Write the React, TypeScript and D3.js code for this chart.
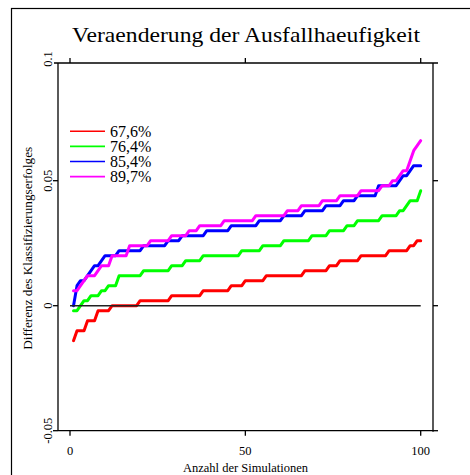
import React from "react";
import * as d3 from "d3";

// Sorted differences in classification success per simulation run (1..100)
const simulations: number[] = Array.from({ length: 100 }, (_, k) => k + 1);

const series676: number[] = [
  -0.014, -0.010, -0.010, -0.010, -0.006, -0.006, -0.006, -0.002, -0.002, -0.002,
  -0.002, 0, 0, 0, 0, 0, 0, 0, 0, 0.002,
  0.002, 0.002, 0.002, 0.002, 0.002, 0.002, 0.002, 0.002, 0.004, 0.004,
  0.004, 0.004, 0.004, 0.004, 0.004, 0.004, 0.004, 0.006, 0.006, 0.006,
  0.006, 0.006, 0.006, 0.006, 0.006, 0.008, 0.008, 0.008, 0.008, 0.010,
  0.010, 0.010, 0.010, 0.010, 0.010, 0.012, 0.012, 0.012, 0.012, 0.012,
  0.012, 0.012, 0.012, 0.012, 0.012, 0.012, 0.014, 0.014, 0.014, 0.014,
  0.014, 0.014, 0.014, 0.016, 0.016, 0.016, 0.018, 0.018, 0.018, 0.018,
  0.018, 0.018, 0.020, 0.020, 0.020, 0.020, 0.020, 0.020, 0.020, 0.020,
  0.022, 0.022, 0.022, 0.022, 0.022, 0.022, 0.024, 0.024, 0.026, 0.026,
];

const series764: number[] = [
  -0.002, -0.002, 0, 0.002, 0.002, 0.004, 0.004, 0.004, 0.006, 0.006,
  0.008, 0.008, 0.008, 0.012, 0.012, 0.012, 0.012, 0.012, 0.012, 0.012,
  0.014, 0.014, 0.014, 0.014, 0.014, 0.014, 0.014, 0.014, 0.016, 0.016,
  0.016, 0.016, 0.018, 0.018, 0.018, 0.018, 0.018, 0.020, 0.020, 0.020,
  0.020, 0.020, 0.020, 0.020, 0.020, 0.020, 0.020, 0.020, 0.022, 0.022,
  0.022, 0.022, 0.022, 0.022, 0.024, 0.024, 0.024, 0.024, 0.024, 0.024,
  0.026, 0.026, 0.026, 0.026, 0.026, 0.026, 0.026, 0.026, 0.028, 0.028,
  0.028, 0.028, 0.028, 0.030, 0.030, 0.030, 0.030, 0.030, 0.032, 0.032,
  0.032, 0.034, 0.034, 0.034, 0.034, 0.034, 0.034, 0.034, 0.036, 0.036,
  0.036, 0.036, 0.036, 0.038, 0.038, 0.040, 0.042, 0.042, 0.042, 0.046,
];

const series854: number[] = [
  0, 0.008, 0.010, 0.010, 0.012, 0.014, 0.016, 0.016, 0.018, 0.020,
  0.020, 0.020, 0.020, 0.022, 0.022, 0.022, 0.022, 0.022, 0.022, 0.022,
  0.024, 0.024, 0.024, 0.024, 0.024, 0.024, 0.024, 0.026, 0.026, 0.026,
  0.026, 0.028, 0.028, 0.028, 0.028, 0.028, 0.028, 0.028, 0.030, 0.030,
  0.030, 0.030, 0.030, 0.030, 0.030, 0.032, 0.032, 0.032, 0.032, 0.032,
  0.032, 0.032, 0.032, 0.034, 0.034, 0.034, 0.034, 0.034, 0.034, 0.034,
  0.036, 0.036, 0.036, 0.036, 0.036, 0.036, 0.038, 0.038, 0.038, 0.038,
  0.038, 0.038, 0.040, 0.040, 0.040, 0.040, 0.040, 0.042, 0.042, 0.042,
  0.042, 0.044, 0.044, 0.044, 0.044, 0.044, 0.044, 0.048, 0.048, 0.048,
  0.048, 0.048, 0.048, 0.050, 0.052, 0.052, 0.054, 0.056, 0.056, 0.056,
];

const series897: number[] = [
  0.006, 0.006, 0.008, 0.010, 0.012, 0.012, 0.012, 0.014, 0.016, 0.016,
  0.016, 0.020, 0.020, 0.020, 0.020, 0.020, 0.024, 0.024, 0.024, 0.024,
  0.024, 0.024, 0.026, 0.026, 0.026, 0.026, 0.026, 0.026, 0.028, 0.028,
  0.028, 0.028, 0.028, 0.030, 0.030, 0.030, 0.032, 0.032, 0.032, 0.032,
  0.032, 0.032, 0.032, 0.034, 0.034, 0.034, 0.034, 0.034, 0.034, 0.034,
  0.034, 0.034, 0.036, 0.036, 0.036, 0.036, 0.036, 0.036, 0.036, 0.036,
  0.036, 0.038, 0.038, 0.038, 0.038, 0.040, 0.040, 0.040, 0.040, 0.040,
  0.040, 0.042, 0.042, 0.042, 0.042, 0.042, 0.044, 0.044, 0.044, 0.044,
  0.044, 0.044, 0.046, 0.046, 0.046, 0.046, 0.046, 0.046, 0.048, 0.048,
  0.048, 0.050, 0.050, 0.052, 0.054, 0.054, 0.058, 0.062, 0.064, 0.066,
];

const seriesLabels: string[] = ["67,6%", "76,4%", "85,4%", "89,7%"];
const seriesColors: string[] = ["#ff0000", "#00ff00", "#0000ff", "#ff00ff"];
const seriesValues: number[][] = [series676, series764, series854, series897];

const xTicks: number[] = [0, 50, 100];
const yTicks: number[] = [-0.05, 0, 0.05];
const yTickLabels: string[] = ["-0.05", "0", "0.05"];
const yTopLabel = "0.1";

const title = "Veraenderung der Ausfallhaeufigkeit";
const xTitle = "Anzahl der Simulationen";
const yTitle = "Differenz des Klassifizierungserfolges";

const FONT = "'Liberation Serif', 'Times New Roman', serif";

export default function App() {
  const W = 470;
  const H = 475;
  const boxLeft = 58;
  const boxRight = 433;
  const boxTop = 63;

  const x = d3.scaleLinear().domain([0, 100]).range([70, 420.7]);
  const y = d3.scaleLinear().domain([-0.05, 0.1]).range([430.7, 55.7]);

  const boxBottom = y(-0.05);

  const line = d3
    .line<number>()
    .x((_, k) => x(simulations[k]))
    .y((v) => y(v));

  const legendY0 = 131.3;
  const legendStep = 15.1;

  return (
    <svg
      width={W}
      height={H}
      style={{ position: "absolute", left: 0, top: 0, background: "#fff" }}
      fontFamily={FONT}
    >
      <rect x={0} y={0} width={W} height={H} fill="#fff" />
      {/* outer graph frame */}
      <rect x={11.5} y={8.5} width={W + 20} height={H + 20} fill="none" stroke="#000" strokeWidth={1.2} />

      <text
        x={246}
        y={41.5}
        textAnchor="middle"
        fontSize={22}
        textLength={348}
        lengthAdjust="spacingAndGlyphs"
        fill="#000"
      >
        {title}
      </text>

      {/* data lines */}
      {seriesValues.map((vals, s) => (
        <path
          key={s}
          d={line(vals) ?? ""}
          fill="none"
          stroke={seriesColors[s]}
          strokeWidth={3}
          strokeLinejoin="round"
          strokeLinecap="round"
        />
      ))}

      {/* zero reference line */}
      <line x1={x(0)} x2={x(100)} y1={y(0)} y2={y(0)} stroke="#222" strokeWidth={1.6} />

      {/* plot box */}
      <line x1={boxLeft} x2={boxLeft} y1={boxTop} y2={boxBottom} stroke="#000" strokeWidth={1.3} />
      <line x1={boxRight} x2={boxRight} y1={boxTop} y2={boxBottom + 1} stroke="#000" strokeWidth={1.3} />
      <line x1={boxLeft - 4} x2={boxRight + 5} y1={boxTop} y2={boxTop} stroke="#000" strokeWidth={1.3} />
      <line x1={boxLeft} x2={boxRight} y1={boxBottom} y2={boxBottom} stroke="#000" strokeWidth={1.3} />

      {/* y ticks, both sides */}
      {yTicks.map((t, k) => (
        <g key={`y${k}`}>
          <line x1={boxLeft - 5} x2={boxLeft} y1={y(t)} y2={y(t)} stroke="#000" strokeWidth={1.3} />
          <line x1={boxRight} x2={boxRight + 5} y1={y(t)} y2={y(t)} stroke="#000" strokeWidth={1.3} />
          <text
            transform={`translate(52,${y(t)}) rotate(-90)`}
            textAnchor="middle"
            fontSize={12.5}
            fill="#000"
          >
            {yTickLabels[k]}
          </text>
        </g>
      ))}
      <text
        transform={`translate(52,${boxTop - 4}) rotate(-90)`}
        textAnchor="middle"
        fontSize={12.5}
        fill="#000"
      >
        {yTopLabel}
      </text>

      {/* x ticks, top and bottom */}
      {xTicks.map((t) => (
        <g key={`x${t}`}>
          <line x1={x(t)} x2={x(t)} y1={boxBottom} y2={boxBottom + 5} stroke="#000" strokeWidth={1.3} />
          <line x1={x(t)} x2={x(t)} y1={boxTop - 5} y2={boxTop} stroke="#000" strokeWidth={1.3} />
          <text x={x(t)} y={455} textAnchor="middle" fontSize={12.5} fill="#000">
            {String(t)}
          </text>
        </g>
      ))}

      <text x={245.5} y={472} textAnchor="middle" fontSize={12.5} fill="#000">
        {xTitle}
      </text>
      <text
        transform={`translate(31.5,248.3) rotate(-90)`}
        textAnchor="middle"
        fontSize={12.5}
        textLength={203}
        lengthAdjust="spacingAndGlyphs"
        fill="#000"
      >
        {yTitle}
      </text>

      {/* legend */}
      {seriesLabels.map((lab, s) => (
        <g key={lab}>
          <line
            x1={70}
            x2={105}
            y1={legendY0 + s * legendStep}
            y2={legendY0 + s * legendStep}
            stroke={seriesColors[s]}
            strokeWidth={1.6}
          />
          <text x={110} y={legendY0 + s * legendStep + 5.5} fontSize={16} fill="#000">
            {lab}
          </text>
        </g>
      ))}
    </svg>
  );
}
